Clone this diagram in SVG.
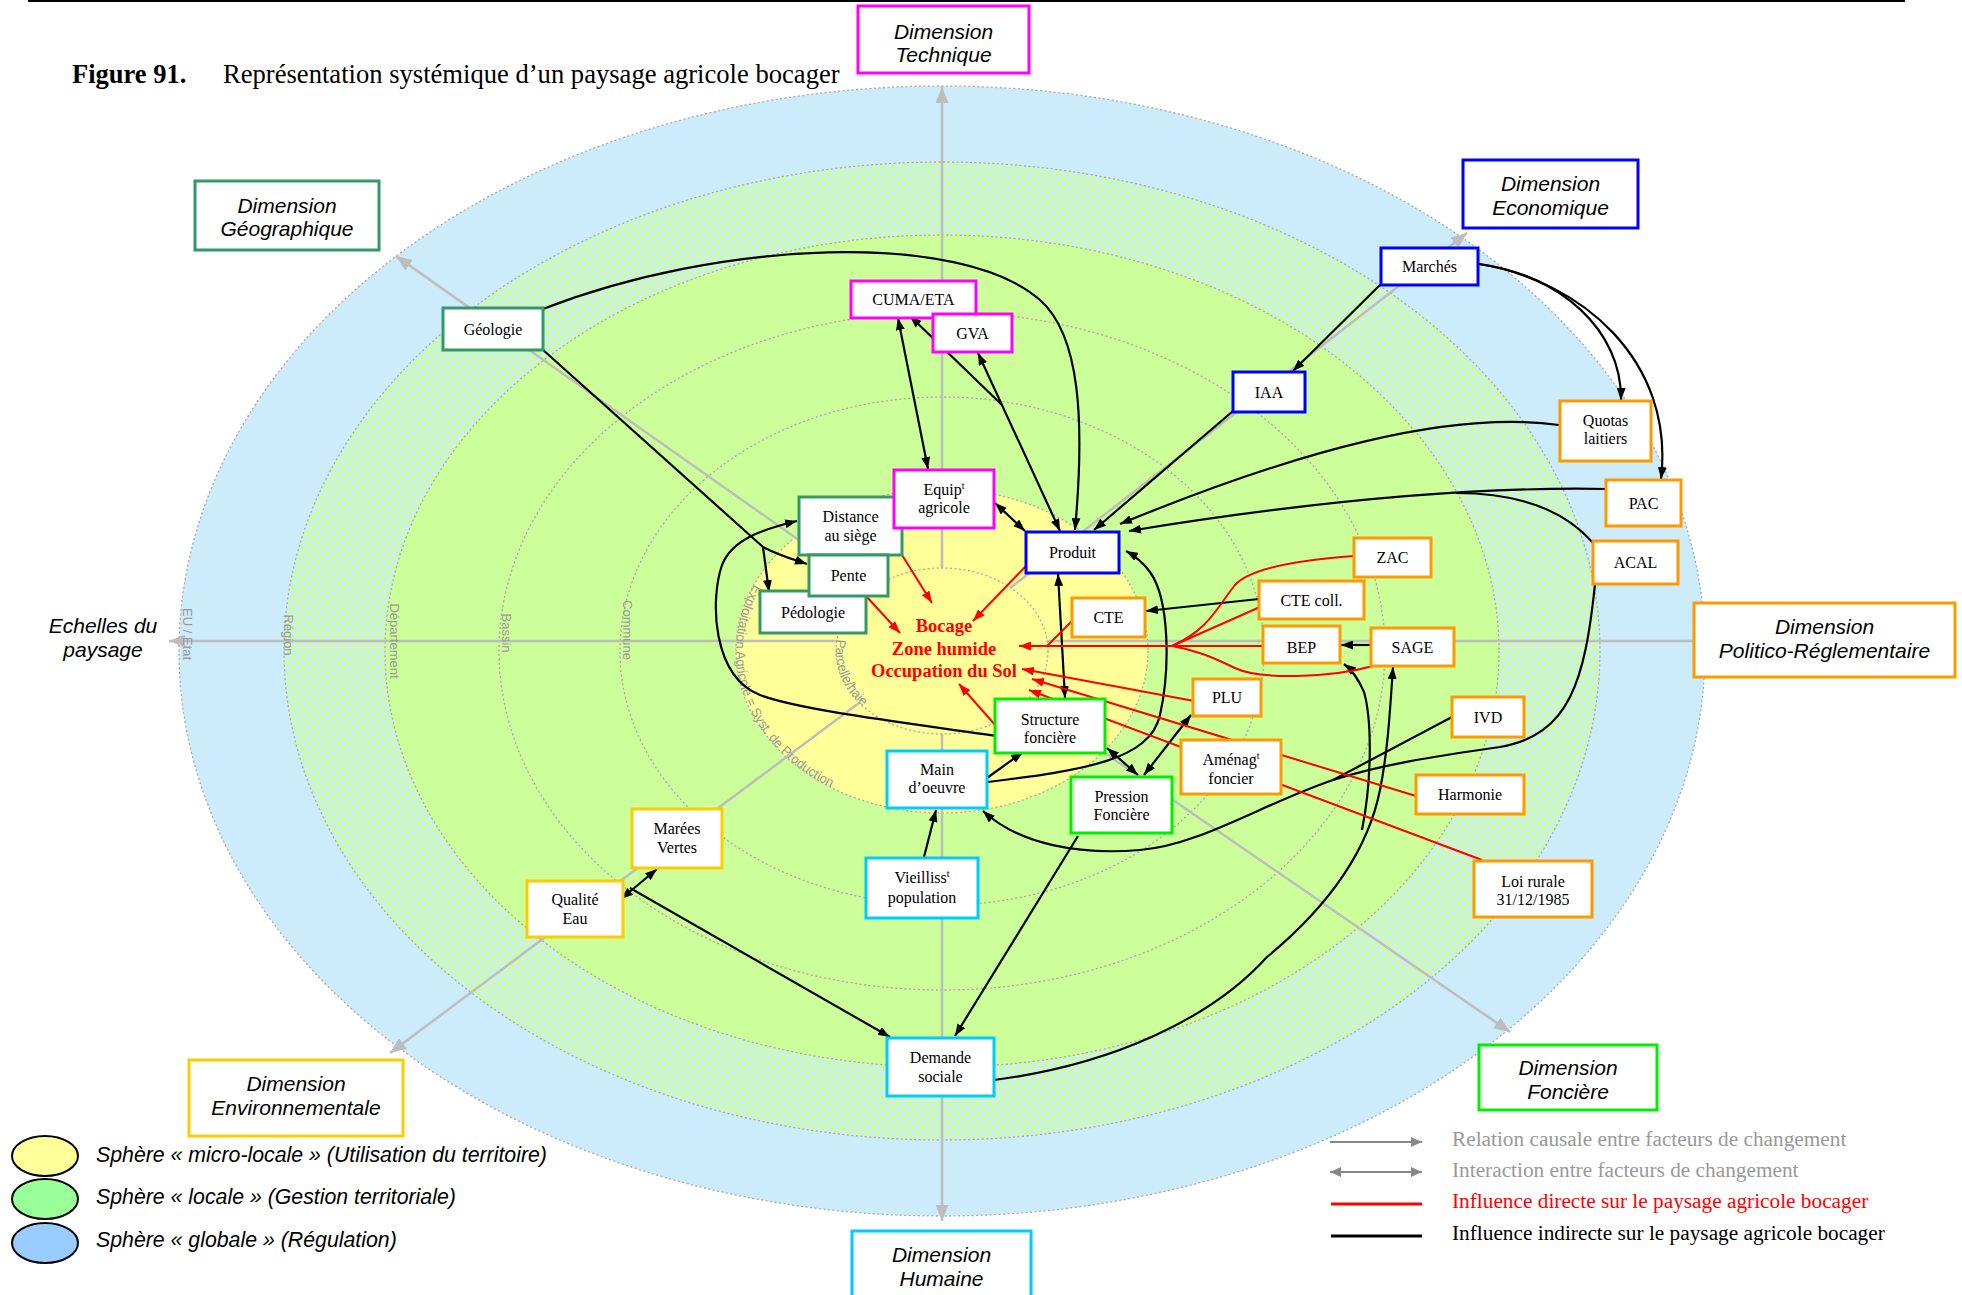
<svg xmlns="http://www.w3.org/2000/svg" width="1962" height="1295" viewBox="0 0 1962 1295">
<defs>
<style>
.ring{fill:none;stroke:#A8A8A8;stroke-width:1.3;stroke-dasharray:2 2.5}
.ax{fill:none;stroke:#BDBDBD;stroke-width:2.5;marker-end:url(#ag)}
.rl{font-family:"Liberation Sans",Arial,sans-serif;font-size:13px;fill:#999}
.node rect,.dim rect{fill:#fff;stroke-width:3}
.t{font-family:"Liberation Serif","Times New Roman",serif;font-size:16px;text-anchor:middle;fill:#000}
.d{font-family:"Liberation Sans",Arial,sans-serif;font-size:21px;font-style:italic;text-anchor:middle;fill:#000}
.mag{stroke:#FF00FF}.blu{stroke:#0000FF}.sg{stroke:#339966}.org{stroke:#FF9900}.grn{stroke:#00EE00}.cyn{stroke:#00CCFF}.gld{stroke:#FFCC00}
.k{fill:none;stroke:#000;stroke-width:2.2}
.k1{marker-end:url(#ak)}
.k2{marker-start:url(#ak);marker-end:url(#ak)}
.r{fill:none;stroke:#FF0000;stroke-width:2}
.r1{marker-end:url(#ar)}
.bc{font-family:"Liberation Serif","Times New Roman",serif;font-size:18.5px;font-weight:bold;fill:#FF0000;text-anchor:middle}
.lg{font-family:"Liberation Sans",Arial,sans-serif;font-size:21.3px;font-style:italic;fill:#000}
.lr{font-family:"Liberation Serif","Times New Roman",serif;font-size:21.3px}
</style>
<pattern id="chk" width="10" height="10" patternUnits="userSpaceOnUse">
<rect width="10" height="10" fill="#CCFF99"/>
<rect width="5" height="5" fill="#CCEBFB"/>
<rect x="5" y="5" width="5" height="5" fill="#CCEBFB"/>
</pattern>
<marker id="ak" viewBox="0 0 12 9" refX="12" refY="4.5" markerWidth="12" markerHeight="9" markerUnits="userSpaceOnUse" orient="auto-start-reverse"><path d="M0,0L12,4.5L0,9z" fill="#000"/></marker>
<marker id="ar" viewBox="0 0 12 9" refX="12" refY="4.5" markerWidth="12" markerHeight="9" markerUnits="userSpaceOnUse" orient="auto-start-reverse"><path d="M0,0L12,4.5L0,9z" fill="#FF0000"/></marker>
<marker id="ag" viewBox="0 0 16 13" refX="16" refY="6.5" markerWidth="16" markerHeight="13" markerUnits="userSpaceOnUse" orient="auto-start-reverse"><path d="M0,0L16,6.5L0,13z" fill="#BDBDBD"/></marker>
<marker id="al" viewBox="0 0 11 10" refX="11" refY="5" markerWidth="11" markerHeight="10" markerUnits="userSpaceOnUse" orient="auto-start-reverse"><path d="M0,0L11,5L0,10z" fill="#888"/></marker>
<path id="pExp" d="M942,489 A206,162 0 0 0 942,813 A206,162 0 0 0 942,489"/>
<path id="pPar" d="M942,568 A106,83 0 0 0 942,734 A106,83 0 0 0 942,568"/>
</defs>

<rect width="1962" height="1295" fill="#fff"/>
<line x1="28" y1="1" x2="1905" y2="1" stroke="#000" stroke-width="2"/>
<g id="title">
<text x="72" y="83" font-family="Liberation Serif, Times New Roman, serif" font-size="26.5" font-weight="bold">Figure 91.</text>
<text x="223" y="83" font-family="Liberation Serif, Times New Roman, serif" font-size="26.6">Représentation systémique d’un paysage agricole bocager</text>
</g>

<g id="spheres">
<ellipse cx="942" cy="651" rx="763" ry="565" fill="#CCEBFB" stroke="#A8A8A8" stroke-width="1.3" stroke-dasharray="2 2.5"/>
<ellipse cx="942" cy="651" rx="658" ry="489" fill="url(#chk)" stroke="#A8A8A8" stroke-width="1.3" stroke-dasharray="2 2.5"/>
<ellipse cx="942" cy="651" rx="557" ry="416" fill="#CCFF99" stroke="#A8A8A8" stroke-width="1.3" stroke-dasharray="2 2.5"/>
<ellipse class="ring" cx="942" cy="651" rx="443" ry="339"/>
<ellipse class="ring" cx="942" cy="651" rx="322" ry="254"/>
<ellipse cx="942" cy="651" rx="206" ry="162" fill="#FFFF99" stroke="#A8A8A8" stroke-width="1.3" stroke-dasharray="2 2.5"/>
</g>

<g id="axes">
<line class="ax" x1="942" y1="641" x2="942" y2="87"/>
<line class="ax" x1="942" y1="641" x2="942" y2="1221"/>
<line class="ax" x1="942" y1="641" x2="169" y2="641"/>
<line class="ax" x1="942" y1="641" x2="1717" y2="641"/>
<line class="ax" x1="942" y1="641" x2="396" y2="256"/>
<line class="ax" x1="942" y1="641" x2="1467" y2="233"/>
<line class="ax" x1="942" y1="641" x2="390" y2="1053"/>
<line class="ax" x1="942" y1="641" x2="1510" y2="1032"/>
</g>
<ellipse id="parcelle-ring" cx="942" cy="651" rx="106" ry="83" fill="#FFFF99" stroke="#A8A8A8" stroke-width="1.3" stroke-dasharray="2 2.5"/>

<g id="scale-labels">
<text class="rl" text-anchor="middle" transform="translate(183,634) rotate(90)">EU / Etat</text>
<text class="rl" text-anchor="middle" transform="translate(284,635) rotate(90)">Région</text>
<text class="rl" text-anchor="middle" transform="translate(390,641) rotate(90)">Département</text>
<text class="rl" text-anchor="middle" transform="translate(502,633) rotate(90)">Bassin</text>
<text class="rl" text-anchor="middle" transform="translate(623,630) rotate(90)">Commune</text>
<text class="rl"><textPath href="#pExp" startOffset="220">Exploitation Agricole = Syst. de Production</textPath></text>
<text class="rl"><textPath href="#pPar" startOffset="137">Parcelle/haie</textPath></text>
</g>

<g id="connectors">
<path class="k k1" d="M543,309 C720,240 960,230 1040,300 C1080,335 1085,420 1075,530"/>
<path class="k" d="M542,349 L763,547"/>
<path class="k k1" d="M763,547 C780,556 795,560 807,564"/>
<path class="k k1" d="M763,547 L769,592"/>
<path class="k k2" d="M898,318 L928,469"/>
<path class="k k2" d="M978,353 L1060,531"/>
<path class="k k1" d="M1002,405 L910,316"/>
<path class="k k2" d="M995,503 L1025,531"/>
<path class="k k1" d="M1381,284 L1293,371"/>
<path class="k k1" d="M1233,411 L1094,530"/>
<path class="k k1" d="M1479,264 C1560,275 1622,330 1621,400"/>
<path class="k k1" d="M1479,264 C1580,280 1675,360 1661,479"/>
<path class="k k1" d="M1559,425 C1450,410 1300,450 1120,524"/>
<path class="k k1" d="M1606,489 C1500,487 1350,495 1129,531"/>
<path class="k" d="M1593,543 C1560,505 1510,493 1456,493"/>
<path class="k k1" d="M1259,599 L1146,611"/>
<path class="k k1" d="M1371,645 L1341,645"/>
<path class="k k2" d="M1058,574 L1065,698"/>
<path class="k k1" d="M997,736 C900,722 800,710 760,695 C712,676 710,600 722,565 C732,540 760,530 797,521"/>
<path class="k k2" d="M1107,748 L1138,775"/>
<path class="k k2" d="M1144,775 L1191,715"/>
<path class="k k1" d="M987,778 L1023,752"/>
<path class="k k1" d="M988,782 C1085,770 1150,760 1160,715 C1170,670 1170,600 1150,572 C1142,561 1135,556 1126,551"/>
<path class="k k1" d="M924,857 L936,810"/>
<path class="k k2" d="M657,869 L621,899"/>
<path class="k k1" d="M630,888 L890,1037"/>
<path class="k k1" d="M1078,836 L955,1036"/>
<path class="k k1" d="M994,1080 C1110,1065 1210,1020 1267,957 C1330,905 1368,850 1380,790 C1388,750 1390,710 1393,667"/>
<path class="k k1" d="M1362,830 C1372,780 1372,720 1364,692 C1358,678 1352,670 1344,664"/>
<path class="k k1" d="M1595,584 C1585,680 1570,735 1500,747 C1430,757 1380,765 1333,780 C1260,805 1200,845 1140,850 C1080,855 1020,845 983,811"/>
<path class="k" d="M1452,717 L1333,780"/>
<path class="r r1" d="M1263,646 L1019,646"/>
<path class="r" d="M1354,556 C1300,560 1250,568 1235,585 C1215,610 1210,628 1172,646"/>
<path class="r" d="M1260,607 L1172,646"/>
<path class="r" d="M1373,666 C1330,678 1260,680 1235,668 C1210,656 1195,650 1172,646"/>
<path class="r" d="M1073,620 L1047,646"/>
<path class="r r1" d="M902,555 L932,603"/>
<path class="r r1" d="M866,596 L900,633"/>
<path class="r r1" d="M1026,566 L973,621"/>
<path class="r r1" d="M996,726 L959,684"/>
<path class="r r1" d="M1194,701 L1022,669"/>
<path class="r r1" d="M1416,796 L1032,679"/>
<path class="r r1" d="M1482,860 L1029,690"/>
</g>

<g id="center-text">
<text class="bc" x="944" y="632">Bocage</text>
<text class="bc" x="944" y="655">Zone humide</text>
<text class="bc" x="944" y="677">Occupation du Sol</text>
</g>

<g id="n-geologie" class="node"><rect class="sg" x="443" y="308" width="100" height="42"/><text class="t" x="493" y="334.5">Géologie</text></g>
<g id="n-cuma" class="node"><rect class="mag" x="851" y="281" width="125" height="37"/><text class="t" x="913.5" y="305">CUMA/ETA</text></g>
<g id="n-gva" class="node"><rect class="mag" x="933" y="314" width="79" height="38"/><text class="t" x="972.5" y="338.5">GVA</text></g>
<g id="n-pedologie" class="node"><rect class="sg" x="760" y="591" width="106" height="42"/><text class="t" x="813" y="617.5">Pédologie</text></g>
<g id="n-distance" class="node"><rect class="sg" x="799" y="497" width="103" height="58"/><text class="t" x="850.5" y="522">Distance</text><text class="t" x="850.5" y="541">au siège</text></g>
<g id="n-pente" class="node"><rect class="sg" x="809" y="555" width="79" height="41"/><text class="t" x="848.5" y="581">Pente</text></g>
<g id="n-equip" class="node"><rect class="mag" x="894" y="470" width="100" height="58"/><text class="t" x="944" y="495">Equip<tspan font-size="10" dy="-6">t</tspan></text><text class="t" x="944" y="513">agricole</text></g>
<g id="n-produit" class="node"><rect class="blu" x="1026" y="532" width="93" height="41"/><text class="t" x="1072.5" y="558">Produit</text></g>
<g id="n-iaa" class="node"><rect class="blu" x="1233" y="372" width="72" height="40"/><text class="t" x="1269" y="397.5">IAA</text></g>
<g id="n-marches" class="node"><rect class="blu" x="1381" y="248" width="97" height="37"/><text class="t" x="1429.5" y="272">Marchés</text></g>
<g id="n-zac" class="node"><rect class="org" x="1354" y="538" width="77" height="39"/><text class="t" x="1392.5" y="563">ZAC</text></g>
<g id="n-ctecoll" class="node"><rect class="org" x="1259" y="581" width="105" height="38"/><text class="t" x="1311.5" y="605.5">CTE coll.</text></g>
<g id="n-cte" class="node"><rect class="org" x="1072" y="598" width="73" height="39"/><text class="t" x="1108.5" y="623">CTE</text></g>
<g id="n-bep" class="node"><rect class="org" x="1263" y="626" width="77" height="37"/><text class="t" x="1301.5" y="653">BEP</text></g>
<g id="n-sage" class="node"><rect class="org" x="1371" y="628" width="83" height="38"/><text class="t" x="1412.5" y="652.5">SAGE</text></g>
<g id="n-quotas" class="node"><rect class="org" x="1560" y="401" width="91" height="60"/><text class="t" x="1605.5" y="426">Quotas</text><text class="t" x="1605.5" y="444">laitiers</text></g>
<g id="n-pac" class="node"><rect class="org" x="1606" y="480" width="75" height="46"/><text class="t" x="1643.5" y="508.5">PAC</text></g>
<g id="n-acal" class="node"><rect class="org" x="1593" y="541" width="85" height="43"/><text class="t" x="1635.5" y="568">ACAL</text></g>
<g id="n-plu" class="node"><rect class="org" x="1193" y="679" width="68" height="37"/><text class="t" x="1227" y="703">PLU</text></g>
<g id="n-ivd" class="node"><rect class="org" x="1452" y="697" width="72" height="40"/><text class="t" x="1488" y="722.5">IVD</text></g>
<g id="n-amenag" class="node"><rect class="org" x="1181" y="740" width="100" height="54"/><text class="t" x="1231" y="765">Aménag<tspan font-size="10" dy="-6">t</tspan></text><text class="t" x="1231" y="784">foncier</text></g>
<g id="n-harmonie" class="node"><rect class="org" x="1416" y="775" width="108" height="39"/><text class="t" x="1470" y="800">Harmonie</text></g>
<g id="n-loirurale" class="node"><rect class="org" x="1474" y="861" width="118" height="56"/><text class="t" x="1533" y="887">Loi rurale</text><text class="t" x="1533" y="905">31/12/1985</text></g>
<g id="n-structure" class="node"><rect class="grn" x="995" y="699" width="110" height="54"/><text class="t" x="1050" y="725">Structure</text><text class="t" x="1050" y="743">foncière</text></g>
<g id="n-main" class="node"><rect class="cyn" x="887" y="751" width="100" height="57"/><text class="t" x="937" y="775">Main</text><text class="t" x="937" y="793">d’oeuvre</text></g>
<g id="n-pression" class="node"><rect class="grn" x="1071" y="777" width="101" height="56"/><text class="t" x="1121.5" y="802">Pression</text><text class="t" x="1121.5" y="820">Foncière</text></g>
<g id="n-marees" class="node"><rect class="gld" x="632" y="809" width="90" height="59"/><text class="t" x="677" y="834">Marées</text><text class="t" x="677" y="853">Vertes</text></g>
<g id="n-qualite" class="node"><rect class="gld" x="527" y="881" width="96" height="56"/><text class="t" x="575" y="905">Qualité</text><text class="t" x="575" y="924">Eau</text></g>
<g id="n-vieilliss" class="node"><rect class="cyn" x="866" y="858" width="112" height="60"/><text class="t" x="922" y="883">Vieilliss<tspan font-size="10" dy="-6">t</tspan></text><text class="t" x="922" y="903">population</text></g>
<g id="n-demande" class="node"><rect class="cyn" x="887" y="1038" width="107" height="58"/><text class="t" x="940.5" y="1063">Demande</text><text class="t" x="940.5" y="1082">sociale</text></g>

<g id="dim-technique" class="dim"><rect class="mag" x="858" y="6" width="171" height="67"/><text class="d" x="943.5" y="39">Dimension</text><text class="d" x="943.5" y="62">Technique</text></g>
<g id="dim-geographique" class="dim"><rect class="sg" x="195" y="181" width="184" height="69"/><text class="d" x="287" y="213">Dimension</text><text class="d" x="287" y="236">Géographique</text></g>
<g id="dim-economique" class="dim"><rect class="blu" x="1463" y="160" width="175" height="68"/><text class="d" x="1550.5" y="191">Dimension</text><text class="d" x="1550.5" y="215">Economique</text></g>
<g id="dim-politico" class="dim"><rect class="org" x="1694" y="603" width="261" height="74"/><text class="d" x="1824.5" y="634">Dimension</text><text class="d" x="1824.5" y="658">Politico-Réglementaire</text></g>
<g id="dim-fonciere" class="dim"><rect class="grn" x="1479" y="1045" width="178" height="65"/><text class="d" x="1568" y="1075">Dimension</text><text class="d" x="1568" y="1099">Foncière</text></g>
<g id="dim-humaine" class="dim"><rect class="cyn" x="852" y="1231" width="179" height="80"/><text class="d" x="941.5" y="1262">Dimension</text><text class="d" x="941.5" y="1286">Humaine</text></g>
<g id="dim-environnementale" class="dim"><rect class="gld" x="189" y="1060" width="214" height="76"/><text class="d" x="296" y="1091">Dimension</text><text class="d" x="296" y="1115">Environnementale</text></g>
<g id="echelles"><text class="d" x="103" y="633">Echelles du</text><text class="d" x="103" y="657">paysage</text></g>

<g id="legend-spheres">
<ellipse cx="45" cy="1156" rx="33" ry="20" fill="#FFFF99" stroke="#000" stroke-width="2"/>
<ellipse cx="45" cy="1199" rx="33" ry="20" fill="#99FF99" stroke="#000" stroke-width="2"/>
<ellipse cx="45" cy="1243" rx="33" ry="20" fill="#99CCFF" stroke="#000" stroke-width="2"/>
<text class="lg" x="96" y="1162">Sphère « micro-locale » (Utilisation du territoire)</text>
<text class="lg" x="96" y="1204">Sphère « locale » (Gestion territoriale)</text>
<text class="lg" x="96" y="1247">Sphère « globale » (Régulation)</text>
</g>
<g id="legend-links">
<line x1="1330" y1="1142" x2="1422" y2="1142" stroke="#888" stroke-width="2" marker-end="url(#al)"/>
<line x1="1330" y1="1172" x2="1422" y2="1172" stroke="#888" stroke-width="2" marker-start="url(#al)" marker-end="url(#al)"/>
<line x1="1331" y1="1204" x2="1422" y2="1204" stroke="#FF0000" stroke-width="3"/>
<line x1="1331" y1="1236" x2="1422" y2="1236" stroke="#000" stroke-width="3"/>
<text class="lr" x="1452" y="1146" fill="#999">Relation causale entre facteurs de changement</text>
<text class="lr" x="1452" y="1177" fill="#999">Interaction entre facteurs de changement</text>
<text class="lr" x="1452" y="1208" fill="#FF0000">Influence directe sur le paysage agricole bocager</text>
<text class="lr" x="1452" y="1240" fill="#000">Influence indirecte sur le paysage agricole bocager</text>
</g>
</svg>
